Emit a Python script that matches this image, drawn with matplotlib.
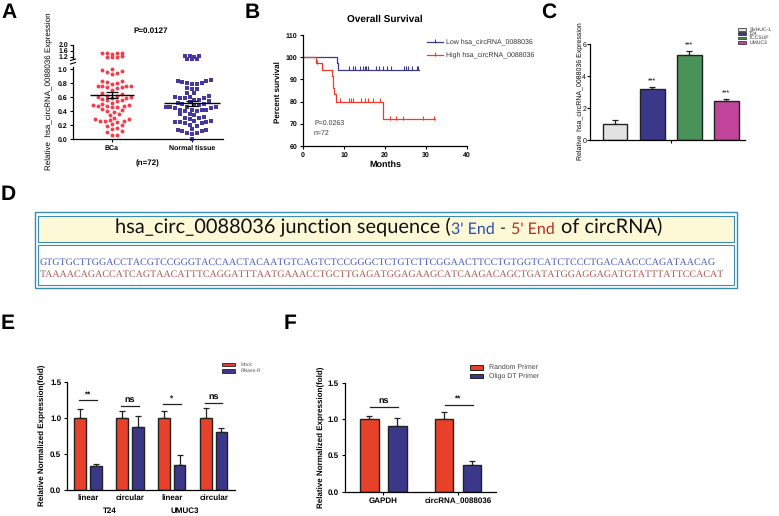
import numpy as np
import matplotlib
matplotlib.use('Agg')
import matplotlib.pyplot as plt
from matplotlib.patches import Rectangle
from matplotlib.font_manager import FontProperties

W, H, DPI = 779, 516, 100
plt.rcParams['font.family'] = ['Liberation Sans', 'DejaVu Sans']
plt.rcParams['axes.linewidth'] = 0.9
plt.rcParams['text.hinting'] = 'no_hinting'
plt.rcParams['text.hinting_factor'] = 1

# ---------------- data ----------------
# Panel A
a_categories = ['BCa', 'Normal tissue']
bca_values = [1.46, 1.44, 1.42, 1.45, 1.43, 1.22, 1.23, 1.21, 1.22,
              1.00, 0.98, 0.97, 0.94, 0.93, 0.95, 0.83, 0.82, 0.83, 0.79, 0.80,
              0.75, 0.74, 0.75, 0.73, 0.74, 0.76, 0.75, 0.70, 0.64, 0.65, 0.62,
              0.60, 0.59, 0.61, 0.58, 0.60, 0.57, 0.55, 0.54, 0.56, 0.52, 0.50,
              0.47, 0.48, 0.46, 0.47, 0.45, 0.47, 0.48, 0.43, 0.40, 0.41, 0.39,
              0.34, 0.35, 0.29, 0.28, 0.30, 0.27, 0.25, 0.24, 0.26, 0.25,
              0.20, 0.19, 0.21, 0.14, 0.15, 0.10, 0.11, 0.05, 0.06]
normal_values = [1.23, 1.24, 1.22, 1.23, 1.08, 1.07, 1.08,
                 0.84, 0.83, 0.82, 0.83, 0.80, 0.79, 0.80, 0.78, 0.72, 0.71, 0.73,
                 0.65, 0.66, 0.60, 0.59, 0.61, 0.60, 0.58, 0.59, 0.55, 0.54, 0.56, 0.53,
                 0.50, 0.51, 0.49, 0.50, 0.48, 0.45, 0.46, 0.44, 0.45, 0.44, 0.45,
                 0.41, 0.42, 0.40, 0.41, 0.42, 0.40, 0.35, 0.36, 0.34,
                 0.30, 0.31, 0.29, 0.30, 0.24, 0.25, 0.23, 0.24, 0.24, 0.25, 0.23,
                 0.19, 0.20, 0.13, 0.12, 0.14, 0.13, 0.12, 0.08, 0.07, 0.09, 0.00]

# Panel B (Kaplan-Meier)
low_times = [0, 8.2, 8.5, 28.4]
low_surv = [100, 97.2, 94.4, 94.4]
low_censor = [11.3, 12.1, 12.7, 13.9, 14.6, 15.0, 15.3, 15.8, 17.7, 18.5, 19.6,
              20.6, 21.4, 24.6, 25.1, 25.7, 26.7, 27.7, 28.1]
high_times = [0, 3.2, 4.7, 7.0, 7.2, 7.4, 7.6, 8.0, 19.5, 32.2]
high_surv = [100, 97.2, 94.4, 91.6, 88.8, 86.0, 83.2, 80.0, 72.0, 72.0]
high_censor = [3.5, 9.0, 11.3, 11.7, 12.1, 14.1, 15.0, 15.8, 17.1, 18.7,
               21.2, 22.7, 24.5, 29.2, 32.0]
b_legend = ['Low hsa_circRNA_0088036', 'High hsa_circRNA_0088036']

# Panel C
c_lines = ['SVHUC-1', 'T24', 'TCCSUP', 'UMUC3']
c_values = [1.0, 3.2, 5.35, 2.45]
c_errors = [0.23, 0.12, 0.25, 0.15]
c_stars = ['', '***', '***', '***']

# Panel D
d_seq1 = "GTGTGCTTGGACCTACGTCCGGGTACCAACTACAATGTCAGTCTCCGGGCTCTGTCTTCGGAACTTCCTGTGGTCATCTCCCTGACAACCCAGATAACAG"
d_seq2 = "TAAAACAGACCATCAGTAACATTTCAGGATTTAATGAAACCTGCTTGAGATGGAGAAGCATCAAGACAGCTGATATGGAGGAGATGTATTTATTCCACAT"

# Panel E
e_groups = ['linear', 'circular', 'linear', 'circular']
e_cells = ['T24', 'UMUC3']
e_mock = [1.0, 1.0, 1.0, 1.0]
e_mock_err = [0.12, 0.09, 0.09, 0.13]
e_rnase = [0.33, 0.87, 0.35, 0.81]
e_rnase_err = [0.035, 0.16, 0.14, 0.05]
e_sig = ['**', 'ns', '*', 'ns']
e_sig_y = [1.245, 1.17, 1.185, 1.20]

# Panel F
f_genes = ['GAPDH', 'circRNA_0088036']
f_random = [1.0, 1.0]
f_random_err = [0.04, 0.09]
f_oligo = [0.90, 0.37]
f_oligo_err = [0.11, 0.05]
f_sig = ['ns', '**']
f_sig_y = [1.16, 1.19]

# ---------------- styling ----------------
RED_A = '#f0404e'
BLUE_A = '#47399c'
RED = '#e8412a'
BLUE = '#3c3889'
C_COLORS = ['#e2e2e2', '#3c3889', '#4a9358', '#c0459a']

fig = plt.figure(figsize=(W / DPI, H / DPI), dpi=DPI)


def rect(l, t, r, b):
    return [l / W, 1 - b / H, (r - l) / W, (b - t) / H]


ov = fig.add_axes([0, 0, 1, 1], zorder=5)
ov.set_xlim(0, W)
ov.set_ylim(H, 0)
ov.axis('off')
ov.patch.set_alpha(0)


def gp(ax, fs=5, bold=True, length=2.5, pad=1.5):
    for s in ['top', 'right']:
        ax.spines[s].set_visible(False)
    ax.tick_params(direction='out', length=length, width=0.8, labelsize=fs, pad=pad)
    if bold:
        for lab in ax.get_xticklabels() + ax.get_yticklabels():
            lab.set_fontweight('bold')


def swarm(vals, ppu, ppx, step=4.8, mind=4.3):
    vals = np.asarray(vals, float)
    order = np.argsort(vals)
    pts = []
    offs = np.zeros(len(vals))
    cand = [0.0]
    for k in range(1, 40):
        cand += [k * step / 2, -k * step / 2]
    for i in order:
        y = vals[i] * ppu
        for c in cand:
            if all((c - px) ** 2 + (y - py) ** 2 >= mind ** 2 for px, py in pts):
                break
        pts.append((c, y))
        offs[i] = c / ppx
    return offs


def letter(x, y, s):
    ov.text(x, y, s, fontsize=15, fontweight='bold', ha='left', va='center')


# ---------------- Panel A ----------------
axA = fig.add_axes(rect(73, 64, 223, 139))
axA2 = fig.add_axes(rect(73, 44.7, 223, 60))
xlimA = (-0.4875, 1.3875)
axA.set_xlim(*xlimA); axA2.set_xlim(*xlimA)
axA.set_ylim(0, 1.07); axA2.set_ylim(1.0, 2.0)
for k, (vals, col, mk) in enumerate([(bca_values, RED_A, 'o'), (normal_values, BLUE_A, 's')]):
    v = np.asarray(vals)
    lo = v[v <= 1.0]
    hi = v[v > 1.0]
    ol = swarm(lo, 70, 80)
    oh = swarm(hi - 1.0, 15.3, 80, mind=3.2)
    ms = 8 if mk == 'o' else 7
    axA.scatter(k + ol, lo, s=ms, marker=mk, color=col, lw=0, clip_on=False, zorder=2)
    axA2.scatter(k + oh, hi, s=ms, marker=mk, color=col, lw=0, clip_on=False, zorder=2)
    m = v.mean()
    sem = v.std(ddof=1) / np.sqrt(len(v))
    w = 0.55 if k == 0 else 0.7
    axA.hlines(m, k - w / 2, k + w / 2, color='black', lw=1.0, zorder=3)
    axA.vlines(k, m - sem, m + sem, color='black', lw=0.9, zorder=3)
    axA.hlines([m - sem, m + sem], k - 0.08, k + 0.08, color='black', lw=0.9, zorder=3)
axA.set_yticks([0, 0.2, 0.4, 0.6, 0.8, 1.0])
axA.set_yticklabels(['0.0', '0.2', '0.4', '0.6', '0.8', '1.0'])
axA.spines['left'].set_bounds(0, 1.03)
axA.set_xticks([0, 1])
axA.set_xticklabels(a_categories)
gp(axA)
axA2.set_yticks([1.2, 1.6, 2.0])
axA2.set_yticklabels(['1.2', '1.6', '2.0'])
axA2.set_xticks([])
axA2.spines['bottom'].set_visible(False)
axA2.patch.set_alpha(0)
gp(axA2)
axA2.tick_params(pad=1.0)
axA2.spines['left'].set_bounds(1.05, 2.0)
ov.plot([70.5, 75.5], [60.5, 59.0], color='black', lw=0.8)
ov.plot([70.5, 75.5], [64.0, 62.5], color='black', lw=0.8)
ov.text(151, 31, 'P=0.0127', fontsize=6, fontweight='bold', ha='center', va='center')
ov.text(148, 163.3, '(n=72)', fontsize=5.5, fontweight='bold', ha='center', va='center')
ov.text(49, 91, 'Relative  hsa_circRNA_0088036 Expression', fontsize=5.5, rotation=90,
        ha='center', va='center')
letter(1, 12.5, 'A')

# ---------------- Panel B ----------------
axB = fig.add_axes(rect(303, 35, 467, 146))
axB.set_xlim(0, 40)
axB.set_ylim(60, 110)


def surv_at(t, times, surv):
    idx = np.searchsorted(times, t, side='right') - 1
    return np.asarray(surv)[idx]


axB.step(low_times, low_surv, where='post', color=BLUE, lw=0.9)
axB.plot(low_censor, surv_at(low_censor, low_times, low_surv) + 0.6, '|', color=BLUE, ms=3, mew=0.8)
axB.step(high_times, high_surv, where='post', color='#f03a2e', lw=0.9)
axB.plot(high_censor, surv_at(high_censor, high_times, high_surv) + 0.6, '|', color='#f03a2e', ms=3, mew=0.8)
axB.set_xticks([0, 10, 20, 30, 40])
axB.set_yticks([60, 70, 80, 90, 100, 110])
gp(axB)
axB.set_xlabel('Months', fontsize=6.5, fontweight='bold', labelpad=2)
ov.text(385, 19, 'Overall Survival', fontsize=7, fontweight='bold', ha='center', va='center')
ov.text(278.3, 92, 'Percent survival', fontsize=5.8, fontweight='bold', rotation=90, ha='center', va='center')
ov.text(314, 123.5, 'P=0.0263', fontsize=5, ha='left', va='center', color='#333333')
ov.text(314, 133.5, 'n=72', fontsize=5, ha='left', va='center', color='#333333')
for yy, col, lab in [(42, BLUE, b_legend[0]), (54.7, '#f03a2e', b_legend[1])]:
    ov.plot([427, 443], [yy, yy], color=col, lw=0.9)
    ov.plot([435], [yy - 0.8], '|', color=col, ms=3, mew=0.8)
    ov.text(446.5, yy, lab, fontsize=5, ha='left', va='center', color='#333333')
letter(245, 12.5, 'B')

# ---------------- Panel C ----------------
axC = fig.add_axes(rect(590, 44.3, 745, 140))
xc = np.arange(len(c_values))
axC.bar(xc, c_values, width=0.67, color=C_COLORS, edgecolor='#222222', lw=1.0, zorder=2)
axC.errorbar(xc, c_values, yerr=[np.zeros(len(c_values)), c_errors], fmt='none',
             ecolor='#222222', elinewidth=0.9, capsize=2.5, capthick=0.9, zorder=1)
for x, v, e, s in zip(xc, c_values, c_errors, c_stars):
    if s:
        axC.text(x, v + e + 0.12, s, fontsize=5, ha='center', va='bottom', clip_on=False)
axC.set_xlim(-0.674, 3.5)
axC.set_ylim(0, 6)
axC.set_yticks([0, 2, 4, 6])
axC.set_xticks([1.5])
axC.set_xticklabels([''])
gp(axC, fs=4.8, bold=False, length=2, pad=0.8)
ov.text(579.5, 91, 'Relative  hsa_circRNA_0088036 Expression', fontsize=5.3, rotation=90,
        ha='center', va='center')
for i, (lab, col) in enumerate(zip(c_lines, C_COLORS)):
    yy = 29.3 + i * 4.35
    ov.add_patch(Rectangle((737.7, yy - 1.4), 8, 2.8, facecolor=col, edgecolor='#222222', lw=0.5))
    ov.text(749.3, yy, lab, fontsize=3.6, ha='left', va='center', color='#333333')
letter(541, 12.5, 'C')

# ---------------- Panel D ----------------
BORDER = '#3a8db0'
ov.add_patch(Rectangle((35, 212.3), 702.5, 75.5, facecolor='white', edgecolor=BORDER, lw=1.0))
ov.add_patch(Rectangle((38.3, 215.7), 696, 26.6, facecolor='#fdf8d6', edgecolor=BORDER, lw=0.8))
ov.add_patch(Rectangle((38.3, 245), 696, 40, facecolor='white', edgecolor=BORDER, lw=0.8))
renderer = fig.canvas.get_renderer()


def text_px_width(s, family, size):
    fp = FontProperties(family=family, size=size)
    return renderer.get_text_width_height_descent(s, fp, ismath=False)[0]


TITLE_FAMILY = ['Lato', 'DejaVu Sans']
pieces = [("hsa_circ_0088036 junction sequence (", '#111111', 1.0, 0.0),
          ("3' End", '#2a4fb0', 0.8, 0.12),
          ("-", '#222222', 0.8, 1.0),
          ("5' End", '#b8302a', 0.8, 1.0),
          ("of circRNA)", '#111111', 1.0, 1.0)]


def title_positions(S):
    x = 0.0
    pos = []
    for txt, col, rel, gap in pieces:
        fs = S * rel
        x += gap * 0.30 * fs * DPI / 72.0
        pos.append(x)
        x += text_px_width(txt, TITLE_FAMILY, fs)
    return pos, x


_, w12 = title_positions(12.0)
S = 12.0 * 563.0 / w12
pos, wt = title_positions(S)
x0 = 388.5 - wt / 2
for (txt, col, rel, gap), px in zip(pieces, pos):
    ov.text(x0 + px, 233.5, txt, fontsize=S * rel, color=col, family=TITLE_FAMILY,
            ha='left', va='baseline')

SEQ_FAMILY = ['Liberation Serif', 'DejaVu Serif']
for yy, seq, col, target in [(262.3, d_seq1, '#4d5bb5', 711.0), (274.3, d_seq2, '#a85b55', 703.0)]:
    w7 = text_px_width(seq, SEQ_FAMILY, 7.0)
    fs = 7.0 * target / w7
    ov.text(39.5, yy, seq, fontsize=fs, color=col, family=SEQ_FAMILY, ha='left', va='center')
letter(1, 195, 'D')

# ---------------- Panel E ----------------
axE = fig.add_axes(rect(66.7, 381.7, 235, 490))
xe = np.arange(len(e_groups))
off, bw = 0.185, 0.28
axE.bar(xe - off, e_mock, width=bw, color=RED, edgecolor='#222222', lw=1.0, zorder=2)
axE.bar(xe + off, e_rnase, width=bw, color=BLUE, edgecolor='#222222', lw=1.0, zorder=2)
axE.errorbar(xe - off, e_mock, yerr=[np.zeros(4), e_mock_err], fmt='none', ecolor='#222222',
             elinewidth=0.9, capsize=2.5, capthick=0.9, zorder=1)
axE.errorbar(xe + off, e_rnase, yerr=[np.zeros(4), e_rnase_err], fmt='none', ecolor='#222222',
             elinewidth=0.9, capsize=2.5, capthick=0.9, zorder=1)
for x, s, yy in zip(xe, e_sig, e_sig_y):
    axE.plot([x - 0.21, x + 0.21], [yy, yy], color='#222222', lw=0.9)
    axE.text(x, yy + 0.03, s, fontsize=6.5 if s == 'ns' else 5.5, fontweight='bold',
             ha='center', va='bottom')
axE.set_xlim(-0.51, 3.51)
axE.set_ylim(0, 1.5)
axE.set_yticks([0, 0.5, 1.0, 1.5])
axE.set_yticklabels(['0.0', '0.5', '1.0', '1.5'])
axE.set_xticks(xe)
axE.set_xticklabels(e_groups)
gp(axE, fs=5.5)
axE.tick_params(axis='x', length=0, pad=3)
ov.text(110, 511, e_cells[0], fontsize=6, fontweight='bold', ha='center', va='center')
ov.text(185, 511, e_cells[1], fontsize=6, fontweight='bold', ha='center', va='center')
ov.text(42.7, 435.5, 'Relative Normalized Expression(fold)', fontsize=5.8, fontweight='bold',
        rotation=90, ha='center', va='center')
for i, (lab, col) in enumerate(zip(['Mock', 'RNase-R'], [RED, BLUE])):
    yy = 364.7 + i * 6.3
    ov.add_patch(Rectangle((222, yy - 1.6), 13, 3.2, facecolor=col, edgecolor='#222222', lw=0.6))
    ov.text(240.5, yy, lab, fontsize=3.8, ha='left', va='center', color='#555555')
letter(1, 323.5, 'E')

# ---------------- Panel F ----------------
axF = fig.add_axes(rect(344.5, 382.7, 496, 491.7))
xf = np.arange(len(f_genes))
off, bw = 0.187, 0.247
axF.bar(xf - off, f_random, width=bw, color=RED, edgecolor='#222222', lw=1.0, zorder=2)
axF.bar(xf + off, f_oligo, width=bw, color=BLUE, edgecolor='#222222', lw=1.0, zorder=2)
axF.errorbar(xf - off, f_random, yerr=[np.zeros(2), f_random_err], fmt='none', ecolor='#222222',
             elinewidth=0.9, capsize=2.5, capthick=0.9, zorder=1)
axF.errorbar(xf + off, f_oligo, yerr=[np.zeros(2), f_oligo_err], fmt='none', ecolor='#222222',
             elinewidth=0.9, capsize=2.5, capthick=0.9, zorder=1)
for x, s, yy in zip(xf, f_sig, f_sig_y):
    axF.plot([x - 0.18, x + 0.2], [yy, yy], color='#222222', lw=0.9)
    axF.text(x, yy + 0.04, s, fontsize=6.5 if s == 'ns' else 5.5, fontweight='bold',
             ha='center', va='bottom')
axF.set_xlim(-0.52, 1.507)
axF.set_ylim(0, 1.5)
axF.set_yticks([0, 0.5, 1.0, 1.5])
axF.set_yticklabels(['0.0', '0.5', '1.0', '1.5'])
axF.set_xticks(xf)
axF.set_xticklabels(f_genes)
gp(axF, fs=5.5)
axF.tick_params(axis='x', length=2, pad=2)
ov.text(321.7, 437, 'Relative Normalized Expression(fold)', fontsize=5.8, fontweight='bold',
        rotation=90, ha='center', va='center')
for i, (lab, col) in enumerate(zip(['Random Primer', 'Oligo DT Primer'], [RED, BLUE])):
    yy = 367.3 + i * 8.7
    ov.add_patch(Rectangle((470, yy - 2.3), 13, 4.6, facecolor=col, edgecolor='#222222', lw=0.7))
    ov.text(489.5, yy, lab, fontsize=5.2, ha='left', va='center', color='#444444')
letter(284, 323.5, 'F')

fig.savefig('out.png', dpi=DPI)
